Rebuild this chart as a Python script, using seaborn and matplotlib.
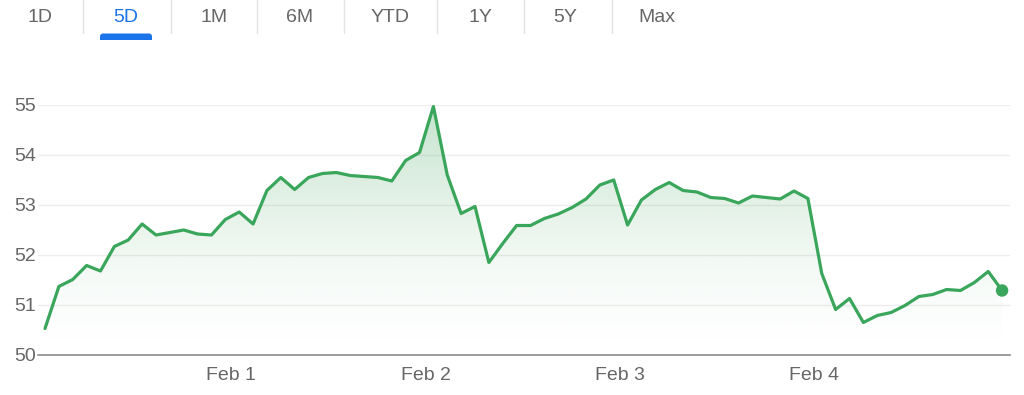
import numpy as np
import pandas as pd
import matplotlib
matplotlib.use("Agg")
import matplotlib.pyplot as plt
import seaborn as sns
from matplotlib.patches import Polygon, FancyBboxPatch, Rectangle
from matplotlib.lines import Line2D
from matplotlib.transforms import IdentityTransform

# ---------------- data ----------------
prices = [50.52, 51.36, 51.50, 51.78, 51.67, 52.16, 52.29, 52.61, 52.39, 52.44,
          52.49, 52.41, 52.39, 52.70, 52.85, 52.61, 53.28, 53.54, 53.30, 53.54,
          53.62, 53.64, 53.58, 53.56, 53.54, 53.47, 53.88, 54.04, 54.96, 53.59,
          52.82, 52.96, 51.84, 52.22, 52.58, 52.58, 52.72, 52.81, 52.94, 53.11,
          53.39, 53.49, 52.59, 53.09, 53.30, 53.44, 53.28, 53.25, 53.14, 53.12,
          53.03, 53.17, 53.14, 53.11, 53.27, 53.12, 51.62, 50.90, 51.12, 50.64,
          50.78, 50.84, 50.98, 51.16, 51.20, 51.30, 51.28, 51.44, 51.66, 51.28]
day_labels = ["Feb 1", "Feb 2", "Feb 3", "Feb 4"]
y_ticks = [50, 51, 52, 53, 54, 55]
tabs = ["1D", "5D", "1M", "6M", "YTD", "1Y", "5Y", "Max"]
active_tab = "5D"

df = pd.DataFrame({"t": np.arange(len(prices)), "price": prices})

# ---------------- style ----------------
sns.set_style("white")
plt.rcParams["font.family"] = ["Liberation Sans", "DejaVu Sans"]

GREEN = "#3aa65b"
GREY_TXT = "#666666"
BLUE = "#1a73e8"
W, H = 1024, 395

fig = plt.figure(figsize=(W / 100, H / 100), dpi=100)
ax = fig.add_axes([38 / W, 1 - 354.5 / H, (1010 - 38) / W, 250 / H])

xmin, xmax = -0.505, 69.57
ymin, ymax = 50, 55
ax.set_xlim(xmin, xmax)
ax.set_ylim(ymin, ymax)

# gradient fill under the line
grad_y = np.linspace(0, 1, 256)[:, None]
alpha = 0.30 * grad_y ** 1.5
rgba = np.zeros((256, 1, 4))
rgba[..., 0] = 60 / 255
rgba[..., 1] = 160 / 255
rgba[..., 2] = 85 / 255
rgba[..., 3] = alpha
im = ax.imshow(rgba, extent=[xmin, xmax, ymin, ymax], origin="lower",
               aspect="auto", zorder=1, interpolation="bilinear")
verts = list(zip(df["t"], df["price"])) + [(df["t"].iloc[-1], ymin), (df["t"].iloc[0], ymin)]
poly = Polygon(verts, closed=True, facecolor="none", edgecolor="none")
ax.add_patch(poly)
im.set_clip_path(poly)

# grid
for yv in y_ticks[1:]:
    ax.axhline(yv, color="#ededed", lw=1.0, zorder=0)

# line
sns.lineplot(data=df, x="t", y="price", ax=ax, color=GREEN, lw=2.3,
             zorder=3, solid_joinstyle="round", solid_capstyle="round")
ax.lines[-1].set_clip_on(False)
# end dot
sns.scatterplot(data=df.iloc[[-1]], x="t", y="price", ax=ax, color=GREEN,
                s=80, edgecolor="none", zorder=4, clip_on=False)

# axes styling
ax.set_xlabel("")
ax.set_ylabel("")
for s in ["top", "right", "left"]:
    ax.spines[s].set_visible(False)
ax.spines["bottom"].set_color("#8a8a8a")
ax.spines["bottom"].set_linewidth(1.2)
ax.set_yticks(y_ticks)
ax.set_yticklabels([str(v) for v in y_ticks])
ax.tick_params(axis="y", length=0, pad=1.5, labelsize=14, labelcolor=GREY_TXT)
tick_pos = [13.43 + 14 * k for k in range(len(day_labels))]
ax.set_xticks(tick_pos)
ax.set_xticklabels(day_labels)
ax.tick_params(axis="x", length=6.5, width=1, color="#8a8a8a", pad=2.5,
               labelsize=14, labelcolor=GREY_TXT, direction="out")
ax.set_facecolor("white")

# ---------------- tabs ----------------
tab_centers = [40, 126, 214, 300, 390, 480, 565, 657]
seps = [82.7, 170.7, 256.7, 343.5, 437, 524, 612]
for lab, cx in zip(tabs, tab_centers):
    fig.text(cx / W, 1 - 17.0 / H, lab, ha="center", va="center", fontsize=14,
             color=BLUE if lab == active_tab else GREY_TXT)
for sx in seps:
    fig.add_artist(Line2D([sx / W, sx / W], [1 - 0 / H, 1 - 33 / H],
                          color="#e3e3e3", lw=1, transform=fig.transFigure))
# underline with rounded top corners (pixel coordinates)
ul_round = FancyBboxPatch((100, H - 39.5), 52, 6,
                          boxstyle="round,pad=0,rounding_size=3",
                          transform=IdentityTransform(), facecolor=BLUE,
                          edgecolor="none")
ul_flat = Rectangle((100, H - 39.5), 52, 3, transform=IdentityTransform(),
                    facecolor=BLUE, edgecolor="none")
fig.add_artist(ul_round)
fig.add_artist(ul_flat)

fig.savefig("out.png", dpi=100, facecolor="white")
